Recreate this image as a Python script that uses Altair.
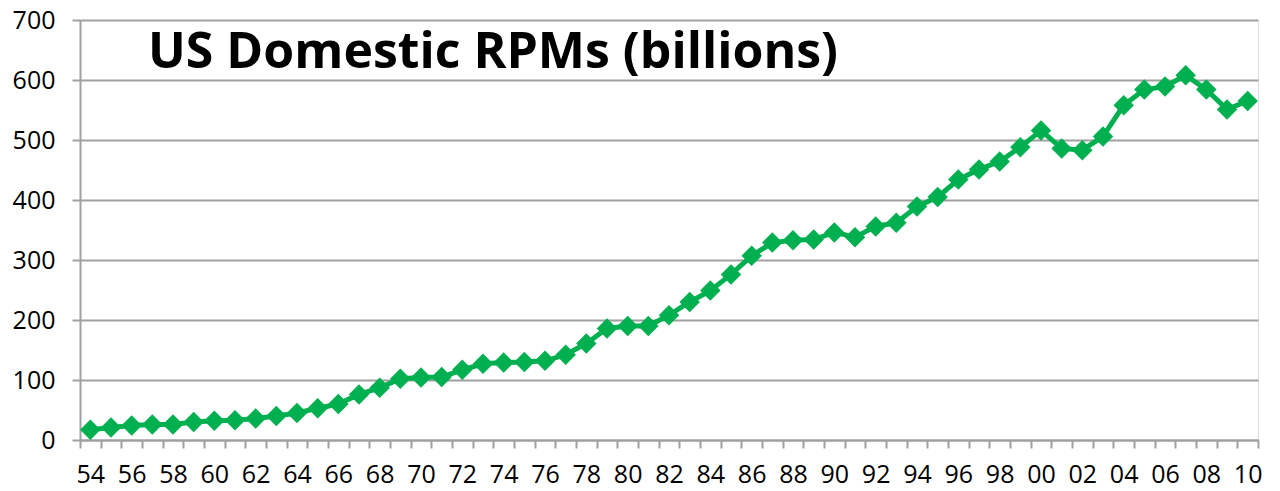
import altair as alt
import pandas as pd

years = list(range(1954, 2011))
rpms = [17, 21, 24, 26, 26, 30, 32, 33, 36, 40,
        45, 53, 60, 76, 87, 102, 104, 105, 117, 127,
        129, 130, 132, 142, 161, 186, 190, 190, 208, 230,
        249, 276, 307, 329, 333, 334, 346, 338, 356, 362,
        389, 405, 434, 451, 464, 488, 516, 486, 483, 506,
        558, 584, 589, 608, 584, 551, 565]
y_ticks = [0, 100, 200, 300, 400, 500, 600, 700]
x_tick_edges = [y - 0.5 for y in years] + [2010.5]
title_text = "US Domestic RPMs (billions)"

df = pd.DataFrame({"year": years, "rpm": rpms})

GREEN = "#00B050"
GRAY = "#a0a0a0"
FONT = "Open Sans"

x_scale = alt.Scale(domain=[1953.5, 2010.5], nice=False, zero=False)
y_scale = alt.Scale(domain=[0, 700], nice=False)

x_axis = alt.Axis(
    values=x_tick_edges,
    labelExpr="(datum.value + 0.5) % 2 == 0 && datum.value < 2010 ? slice('' + (datum.value + 0.5), 2) : ''",
    labelOffset=10.33,
    labelOverlap=False,
    labelBound=False,
    labelFlush=False,
    grid=False,
    title=None,
    domainColor=GRAY,
    domainWidth=2,
    tickColor=GRAY,
    tickWidth=2,
    tickSize=8,
    labelFont=FONT,
    labelFontSize=25,
    labelColor="black",
    labelPadding=14,
)

y_axis = alt.Axis(
    values=y_ticks,
    grid=True,
    gridColor=GRAY,
    gridWidth=2,
    title=None,
    domainColor=GRAY,
    domainWidth=2,
    tickColor=GRAY,
    tickWidth=2,
    tickSize=8,
    labelFont=FONT,
    labelFontSize=25,
    labelColor="black",
    labelPadding=17,
)

line = alt.Chart(df).mark_line(color=GREEN, strokeWidth=5).encode(
    x=alt.X("year:Q", scale=x_scale, axis=x_axis),
    y=alt.Y("rpm:Q", scale=y_scale, axis=y_axis),
)

points = alt.Chart(df).mark_point(
    shape="diamond", filled=True, color=GREEN, size=420, opacity=1
).encode(
    x=alt.X("year:Q", scale=x_scale, axis=x_axis),
    y=alt.Y("rpm:Q", scale=y_scale, axis=y_axis),
)

title = alt.Chart(pd.DataFrame({"t": [title_text]})).mark_text(
    font=FONT, fontSize=50, fontWeight="bold", align="left",
    baseline="alphabetic", color="black"
).encode(
    x=alt.value(68),
    y=alt.value(48),
    text="t:N",
)

chart = alt.layer(line, points, title).properties(
    width=1178,
    height=420,
    autosize=alt.AutoSizeParams(type="none"),
    padding={"left": 72, "top": 12, "right": 14, "bottom": 43},
).configure_view(stroke=None).configure(background="white")

chart.save("out.html", embed_options={"renderer": "svg", "actions": False})
